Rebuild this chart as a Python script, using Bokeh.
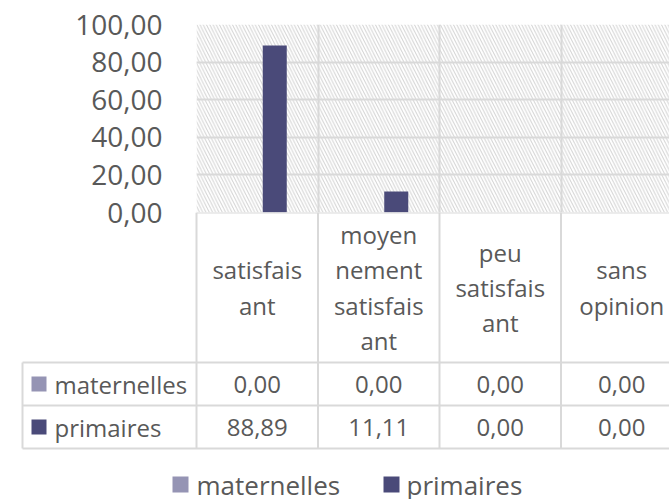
from bokeh.plotting import figure
from bokeh.layouts import column, row
from bokeh.models import Range1d, FixedTicker, Grid, BoxAnnotation
from bokeh.core.properties import value
from bokeh.embed import file_html
from bokeh.resources import INLINE

# ---- data ----
categories = ["satisfais\nant", "moyen\nnement\nsatisfais\nant", "peu\nsatisfais\nant", "sans\nopinion"]
series_names = ["maternelles", "primaires"]
maternelles = [0.00, 0.00, 0.00, 0.00]
primaires = [88.89, 11.11, 0.00, 0.00]
y_ticks = [0, 20, 40, 60, 80, 100]
y_tick_labels = ["0,00", "20,00", "40,00", "60,00", "80,00", "100,00"]
series_colors = ["#9594b4", "#4a4a79"]

FONT = "Open Sans"
TXT = "#595959"
GRID = "#d9d9d9"

W = 669
PX = 121.5          # pixels per category
LEFT = 196          # frame left offset inside the figure
FRAME_BOTTOM = 212
EXTRA = 20          # room below the frame for the "0,00" tick label
x_end = (W - LEFT) / PX
BAR_W = 24 / PX
OFF = 17.5 / PX

def fmt(v):
    return f"{v:.2f}".replace(".", ",")

# ---- bar chart ----
top = figure(width=W, height=FRAME_BOTTOM + EXTRA, output_backend="svg", toolbar_location=None,
             x_range=Range1d(0, x_end), y_range=Range1d(0, 100),
             x_axis_location=None, min_border_left=LEFT, min_border_right=0,
             min_border_top=24, min_border_bottom=EXTRA, outline_line_color=None,
             background_fill_color="white", border_fill_color="white")
top.grid.visible = False

top.add_layout(BoxAnnotation(fill_alpha=0, line_color=None, hatch_pattern="\\",
                             hatch_color="#d2d2d2", hatch_scale=6.5, hatch_weight=1,
                             level="underlay"))
top.add_layout(Grid(dimension=1, ticker=FixedTicker(ticks=y_ticks),
                    grid_line_color=GRID, grid_line_width=2))
top.add_layout(Grid(dimension=0, ticker=FixedTicker(ticks=[0, 1, 2, 3, 4]),
                    grid_line_color=GRID, grid_line_width=2))

xs = [i + 0.5 for i in range(len(categories))]
top.vbar(x=[x - OFF for x in xs], top=maternelles, width=BAR_W,
         fill_color=series_colors[0], line_color=None)
top.vbar(x=[x + OFF for x in xs], top=primaires, width=BAR_W,
         fill_color=series_colors[1], line_color=None)

ya = top.yaxis[0]
ya.ticker = FixedTicker(ticks=y_ticks)
ya.major_label_overrides = {t: l for t, l in zip(y_ticks, y_tick_labels)}
ya.axis_line_color = None
ya.major_tick_line_color = None
ya.minor_tick_line_color = None
ya.major_label_standoff = 28
ya.major_label_text_font = FONT
ya.major_label_text_font_size = "28px"
ya.major_label_text_color = TXT

# ---- data table + legend (overlaps the empty band below the bar frame) ----
TH = 499 - FRAME_BOTTOM
tbl = figure(width=W, height=TH, output_backend="svg", toolbar_location=None,
             x_range=Range1d(-LEFT / PX, x_end), y_range=Range1d(-TH, 0),
             x_axis_location=None, y_axis_location=None,
             min_border_left=0, min_border_right=0, min_border_top=0, min_border_bottom=0,
             outline_line_color=None, background_fill_alpha=0, border_fill_alpha=0)
tbl.grid.visible = False
tbl.margin = (-EXTRA, 0, 0, 0)

tl = (22 - 196) / PX
row_lines = [-150, -193, -236]
tbl.segment(x0=[tl] * 3, x1=[x_end + 1] * 3, y0=row_lines, y1=row_lines,
            line_color=GRID, line_width=2)
tbl.segment(x0=[0], x1=[x_end + 1], y0=[0], y1=[0], line_color=GRID, line_width=2)
tbl.segment(x0=[tl], x1=[tl], y0=[-150], y1=[-236], line_color=GRID, line_width=2)
tbl.segment(x0=[0, 1, 2, 3, 4], x1=[0, 1, 2, 3, 4], y0=[0] * 5, y1=[-236] * 5,
            line_color=GRID, line_width=2)

tbl.text(x=xs, y=[-75] * 4, text=categories, text_align="center",
         text_baseline="middle", text_font=value(FONT), text_font_size="24px",
         text_color=TXT, text_line_height=1.07)

row_y = [-171.5, -214.5]
for vals, ry, name, col in zip([maternelles, primaires], row_y, series_names, series_colors):
    tbl.text(x=xs, y=[ry] * 4, text=[fmt(v) for v in vals], text_align="center",
             text_baseline="middle", text_font=value(FONT), text_font_size="24px",
             text_color=TXT)
    tbl.scatter(x=[(38.5 - 196) / PX], y=[ry], marker="square", size=15,
                fill_color=col, line_color=None)
    tbl.text(x=[(54 - 196) / PX], y=[ry], text=[name], text_align="left",
             text_baseline="middle", text_font=value(FONT), text_font_size="24px",
             text_color=TXT)

# legend
leg_y = -272
leg_sw = [(180 - 196) / PX, (391 - 196) / PX]
leg_tx = [(196 - 196) / PX, (406 - 196) / PX]
tbl.scatter(x=leg_sw, y=[leg_y] * 2, marker="square", size=16,
            fill_color=series_colors, line_color=None)
tbl.text(x=leg_tx, y=[leg_y] * 2, text=series_names, text_align="left",
         text_baseline="middle", text_font=value(FONT), text_font_size="26px",
         text_color=TXT)

layout = column(row(top), row(tbl), spacing=0)
open("out.html", "w").write(file_html(layout, INLINE))
